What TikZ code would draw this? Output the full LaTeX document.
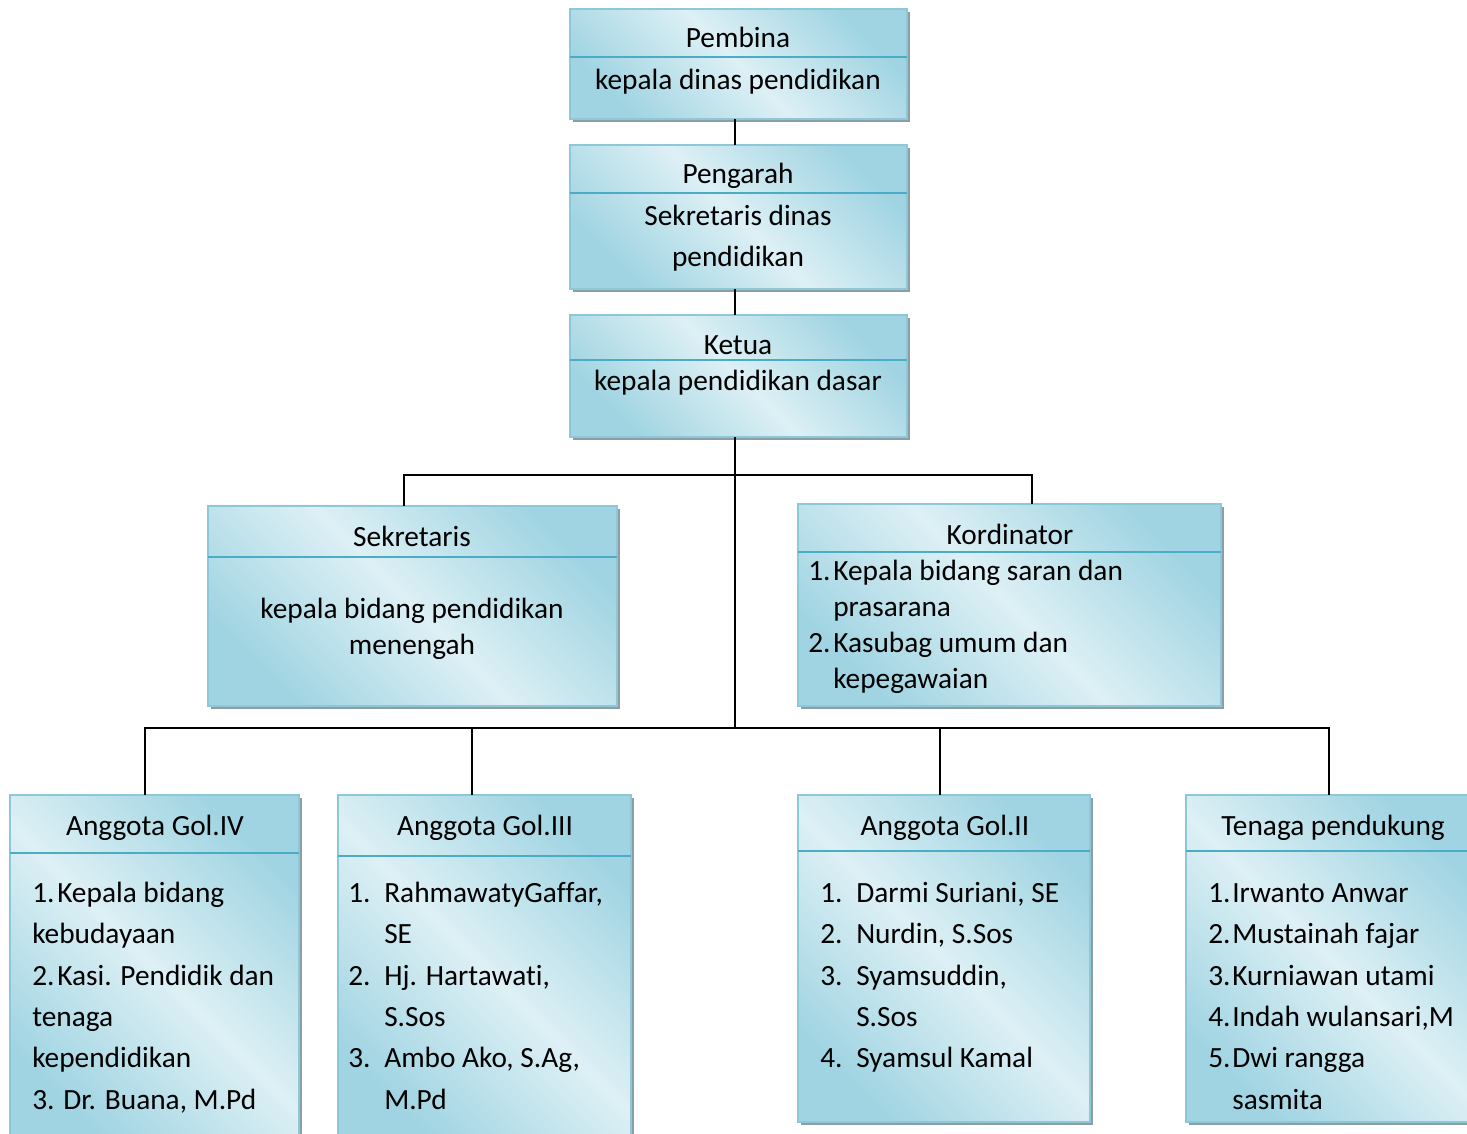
\documentclass[tikz,border=0pt]{standalone}
\usepackage{fontspec}
\setmainfont{Carlito}[RawFeature={-liga}]
\usetikzlibrary{fit}
\definecolor{boxdark}{RGB}{160,212,226}
\definecolor{boxlight}{RGB}{221,240,245}
\definecolor{boxedge}{RGB}{140,200,216}
\definecolor{dividerc}{RGB}{75,172,198}
\definecolor{shadowc}{RGB}{140,158,164}
\newcommand\bodyfont{\fontsize{22}{26}\selectfont}
\tikzset{
  orgfill/.style={draw=boxedge, line width=0.8pt, top color=boxdark, bottom color=boxdark, middle color=boxlight, shading angle=-45},
  orgshadow/.style={fill=shadowc},
  divline/.style={draw=dividerc, line width=1.5pt},
  conn/.style={draw=black, line width=1.4pt},
  ct/.style={anchor=base, inner sep=0pt, font=\bodyfont},
  lt/.style={anchor=base west, inner sep=0pt, font=\bodyfont},
  frame/.style={inner sep=0pt, outer sep=0pt}
}
% #1 name, #2 x1, #3 y1, #4 x2, #5 y2, #6 divider y
\newcommand\orgpanel[6]{%
  \fill[orgshadow] ({#2+3},{#3+3}) rectangle ({#4+3},{#5+3});
  \path[orgfill] (#2,#3) rectangle (#4,#5);
  \draw[divline] (#2,#6) -- (#4,#6);
  \node[frame, fit={(#2,#3) (#4,#5)}] (#1) {};
}
\begin{document}
\begin{tikzpicture}[x=0.75pt,y=-0.75pt]
\clip (0,0) rectangle (1467,1134);
\fill[white] (0,0) rectangle (1467,1134);

% boxes
\orgpanel{pembina}{570}{9}{907}{119}{57}
\orgpanel{pengarah}{570}{145}{907}{289}{193}
\orgpanel{ketua}{570}{315}{907}{437}{360}
\orgpanel{sekretaris}{208}{506}{617}{706}{557}
\orgpanel{kordinator}{798}{504}{1221}{706}{552}
\orgpanel{gol4}{10}{795}{299}{1140}{853}
\orgpanel{gol3}{338}{795}{631}{1140}{856}
\orgpanel{gol2}{798}{795}{1090}{1122}{851}
\orgpanel{tenaga}{1186}{795}{1475}{1122}{851}

% connectors
\coordinate (trunk) at (735,0);
\coordinate (busB) at (735,728);
\coordinate (dSek) at (404,475);
\coordinate (dKor) at (1032,475);
\coordinate (d4) at (145,728);
\coordinate (d3) at (472,728);
\coordinate (d2) at (940,728);
\coordinate (dT) at (1329,728);
\draw[conn] (pembina.south -| trunk) -- (pengarah.north -| trunk);
\draw[conn] (pengarah.south -| trunk) -- (ketua.north -| trunk);
\draw[conn] (ketua.south -| trunk) -- (busB);
\draw[conn] (sekretaris.north -| dSek) -- (dSek) -- (dKor) -- (kordinator.north -| dKor);
\draw[conn] (gol4.north -| d4) -- (d4) -- (dT) -- (tenaga.north -| dT);
\draw[conn] (gol3.north -| d3) -- (d3);
\draw[conn] (gol2.north -| d2) -- (d2);

% Pembina
\node[ct] (pbA) at (738,48) {Pembina};
\node[ct] (pbB) at (738,90) {kepala dinas pendidikan};
% Pengarah
\node[ct] (pgA) at (738,184) {Pengarah};
\node[ct] (pgB) at (738,226) {Sekretaris dinas};
\node[ct] (pgC) at (738,267) {pendidikan};
% Ketua
\node[ct] (ktA) at (738,354) {Ketua};
\node[ct] (ktB) at (738,390) {kepala pendidikan dasar};
% Sekretaris
\node[ct] (skA) at (412,546) {Sekretaris};
\node[ct] (skB) at (412,618) {kepala bidang pendidikan};
\node[ct] (skC) at (412,654) {menengah};
% Kordinator
\node[ct] (koA) at (1010,544) {Kordinator};
\node[lt] (koN1) at (808,580) {1.};
\node[lt] (koB) at (833,580) {Kepala bidang saran dan};
\node[lt] (koC) at (833,616) {prasarana};
\node[lt] (koN2) at (808,652) {2.};
\node[lt] (koD) at (833,652) {Kasubag umum dan};
\node[lt] (koE) at (833,688) {kepegawaian};
% Gol IV
\node[ct] (g4A) at (155,835) {Anggota Gol.IV};
\node[lt] (g4N1) at (32,902) {1.};
\node[lt] (g4B) at (57,902) {Kepala bidang};
\node[lt] (g4C) at (32,943) {kebudayaan};
\node[lt] (g4N2) at (32,985) {2.};
\node[lt] (g4D) at (57,985) {Kasi. Pendidik dan};
\node[lt] (g4E) at (32,1026) {tenaga};
\node[lt] (g4F) at (32,1067) {kependidikan};
\node[lt] (g4G) at (32,1109) {3. Dr. Buana, M.Pd};
% Gol III
\node[ct] (g3A) at (485,835) {Anggota Gol.III};
\node[lt] (g3N1) at (348,902) {1.};
\node[lt] (g3B) at (384,902) {RahmawatyGaffar,};
\node[lt] (g3C) at (384,943) {SE};
\node[lt] (g3N2) at (348,985) {2.};
\node[lt] (g3D) at (384,985) {Hj. Hartawati,};
\node[lt] (g3E) at (384,1026) {S.Sos};
\node[lt] (g3N3) at (348,1067) {3.};
\node[lt] (g3F) at (384,1067) {Ambo Ako, S.Ag,};
\node[lt] (g3G) at (384,1109) {M.Pd};
% Gol II
\node[ct] (g2A) at (945,835) {Anggota Gol.II};
\node[lt] (g2N1) at (820,902) {1.};
\node[lt] (g2B) at (856,902) {Darmi Suriani, SE};
\node[lt] (g2N2) at (820,943) {2.};
\node[lt] (g2C) at (856,943) {Nurdin, S.Sos};
\node[lt] (g2N3) at (820,985) {3.};
\node[lt] (g2D) at (856,985) {Syamsuddin,};
\node[lt] (g2E) at (856,1026) {S.Sos};
\node[lt] (g2N4) at (820,1067) {4.};
\node[lt] (g2F) at (856,1067) {Syamsul Kamal};
% Tenaga pendukung
\node[ct] (tpA) at (1333,835) {Tenaga pendukung};
\node[lt] (tpN1) at (1208,902) {1.};
\node[lt] (tpB) at (1232,902) {Irwanto Anwar};
\node[lt] (tpN2) at (1208,943) {2.};
\node[lt] (tpC) at (1232,943) {Mustainah fajar};
\node[lt] (tpN3) at (1208,985) {3.};
\node[lt] (tpD) at (1232,985) {Kurniawan utami};
\node[lt] (tpN4) at (1208,1026) {4.};
\node[lt] (tpE) at (1232,1026) {Indah wulansari,M};
\node[lt] (tpN5) at (1208,1067) {5.};
\node[lt] (tpF) at (1232,1067) {Dwi rangga};
\node[lt] (tpG) at (1232,1109) {sasmita};
\end{tikzpicture}
\end{document}
